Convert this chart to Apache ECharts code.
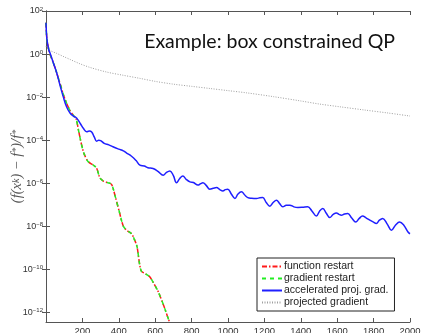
<!DOCTYPE html>
<html><head><meta charset="utf-8">
<script src="https://cdn.jsdelivr.net/npm/echarts@6/dist/echarts.min.js"></script>
<style>html,body{margin:0;padding:0;background:#fff}#c{width:421px;height:333px}</style>
</head><body><div id="c"></div>
<script>
// ---- data (y values given as log10 exponents) ----
const seriesNames = ['function restart', 'gradient restart', 'accelerated proj. grad.', 'projected gradient'];
const xTicks = [200, 400, 600, 800, 1000, 1200, 1400, 1600, 1800, 2000];
const yTickExps = [-12, -10, -8, -6, -4, -2, 0, 2];

const restartIter = [0, 5, 20, 40, 60, 80, 100, 130, 150, 165, 180, 195, 210, 232, 260, 278, 296, 315, 340, 360, 380, 405, 425, 445, 470, 485, 500, 515, 525, 545, 570, 595, 617, 645, 672, 690];
const restartExp  = [1.45, 0.7, 0.05, -0.4, -0.9, -1.45, -2.0, -2.6, -2.85, -3.0, -3.6, -4.2, -4.65, -5.0, -5.16, -5.3, -5.75, -5.9, -5.98, -6.05, -6.6, -7.4, -8.0, -8.2, -8.35, -8.6, -8.95, -9.8, -10.1, -10.2, -10.35, -10.7, -11.05, -11.65, -12.3, -12.7];

const accelIter = [0, 5, 15, 22, 40, 59, 77, 95, 113, 132, 150, 165, 175, 190, 205, 223, 237, 251, 265, 278, 290, 300, 320, 345, 368, 400, 425, 443, 470, 495, 516, 540, 560, 588, 615, 644, 662, 681, 700, 717, 735, 752, 770, 791, 810, 835, 850, 862, 880, 900, 918, 937, 955, 972, 985, 999, 1018, 1038, 1055, 1074, 1092, 1109, 1130, 1157, 1175, 1191, 1210, 1230, 1248, 1266, 1284, 1301, 1320, 1340, 1362, 1384, 1410, 1438, 1462, 1486, 1503, 1521, 1540, 1559, 1578, 1596, 1610, 1623, 1640, 1658, 1680, 1702, 1720, 1739, 1760, 1779, 1797, 1815, 1832, 1850, 1875, 1898, 1920, 1943, 1966, 1989, 2000];
const accelExp  = [1.45, 0.7, 0.2, 0.05, -0.4, -0.88, -1.45, -1.99, -2.45, -2.74, -2.88, -2.95, -3.05, -3.25, -3.45, -3.61, -3.58, -3.62, -3.85, -4.05, -4.0, -4.02, -4.15, -4.22, -4.31, -4.42, -4.5, -4.6, -4.75, -4.95, -5.16, -5.2, -5.28, -5.32, -5.45, -5.63, -5.5, -5.43, -5.65, -5.98, -5.78, -5.67, -5.82, -5.94, -5.97, -6.09, -6.02, -5.98, -6.1, -6.28, -6.24, -6.2, -6.3, -6.36, -6.3, -6.28, -6.5, -6.71, -6.5, -6.4, -6.55, -6.67, -6.7, -6.71, -6.68, -6.67, -6.9, -7.07, -6.9, -6.79, -6.95, -7.1, -7.03, -7.02, -7.1, -7.13, -7.12, -7.1, -7.3, -7.53, -7.3, -7.18, -7.4, -7.6, -7.45, -7.38, -7.45, -7.49, -7.43, -7.41, -7.62, -7.8, -7.65, -7.53, -7.62, -7.72, -7.8, -7.87, -7.72, -7.64, -7.9, -8.19, -7.95, -7.8, -7.95, -8.27, -8.35];

const projIter = [0, 20, 59, 100, 132, 180, 241, 335, 420, 516, 600, 700, 800, 900, 1000, 1100, 1250, 1400, 1500, 1614, 1750, 1880, 2000];
const projExp  = [0.36, 0.18, 0.03, -0.13, -0.25, -0.43, -0.62, -0.84, -0.98, -1.13, -1.27, -1.4, -1.5, -1.6, -1.7, -1.8, -1.98, -2.18, -2.32, -2.45, -2.6, -2.74, -2.88];

const yMinExp = -12.45, yMaxExp = 2;

function pts(xs, es) { return xs.map((x, i) => [x, Math.pow(10, es[i])]); }
const yTickVals = yTickExps.map(e => Math.pow(10, e));
const sans = 'Liberation Sans';

function yLabel(v) {
  const e = Math.round(Math.log10(v));
  return '{b|10}{s|' + (e < 0 ? '\u2212' + (-e) : e) + '}';
}

const axisColor = '#555';
const chart = echarts.init(document.getElementById('c'), null, { renderer: 'canvas' });
chart.setOption({
  animation: false,
  backgroundColor: '#fff',
  title: {
    text: 'Example: box constrained QP',
    right: 21, top: 27,
    textStyle: { fontFamily: 'Lato', fontSize: 19.5, fontWeight: 'normal', color: '#111' }
  },
  grid: { left: 46, right: 11, top: 11, bottom: 11, containLabel: false, outerBoundsMode: 'none' },
  legend: {
    data: seriesNames,
    orient: 'vertical',
    left: 257, top: 258,
    itemWidth: 20, itemHeight: 8, itemGap: 1,
    padding: [3, 6, 3, 4],
    borderColor: '#222', borderWidth: 1,
    backgroundColor: '#fff',
    itemStyle: { opacity: 0 },
    textStyle: { fontFamily: sans, fontSize: 10.5, color: '#222', lineHeight: 11, padding: [0, 0, 0, -3] }
  },
  xAxis: [{
    type: 'value', min: 0, max: 2000, interval: 200,
    axisLine: { lineStyle: { color: axisColor, width: 1 } },
    axisTick: { inside: true, length: 4, lineStyle: { color: axisColor } },
    axisLabel: { showMinLabel: false, margin: 4, fontFamily: sans, fontSize: 9.5, color: '#333',
      formatter: v => (xTicks.indexOf(v) >= 0 ? String(v) : '') },
    splitLine: { show: false }
  }, {
    type: 'value', position: 'top', min: 0, max: 2000, interval: 200,
    axisLine: { lineStyle: { color: axisColor, width: 1 } },
    axisTick: { inside: true, length: 4, lineStyle: { color: axisColor } },
    axisLabel: { show: false }, splitLine: { show: false }
  }],
  yAxis: [{
    type: 'log', logBase: 10, min: Math.pow(10, yMinExp), max: Math.pow(10, yMaxExp),
    name: '{i|(f(x}{t|k}{i|) \u2212 f}{t|*}{i|)/f}{t|*}',
    nameLocation: 'middle', nameGap: 21, nameRotate: 90, nameMoveOverlap: false,
    nameTextStyle: {
      rich: {
        i: { fontFamily: 'Liberation Serif', fontStyle: 'italic', fontSize: 14.5, color: '#555', lineHeight: 14, verticalAlign: 'bottom' },
        t: { fontFamily: 'Liberation Serif', fontStyle: 'italic', fontSize: 10, color: '#555', lineHeight: 14, verticalAlign: 'top' }
      }
    },
    axisLine: { lineStyle: { color: axisColor, width: 1 } },
    axisTick: { inside: true, length: 4, customValues: yTickVals, lineStyle: { color: axisColor } },
    axisLabel: {
      customValues: yTickVals, margin: 3, formatter: yLabel,
      rich: {
        b: { fontFamily: sans, fontSize: 9, color: '#333', lineHeight: 9, verticalAlign: 'bottom' },
        s: { fontFamily: sans, fontSize: 6, color: '#333', lineHeight: 9, verticalAlign: 'top' }
      }
    },
    minorTick: { show: false },
    splitLine: { show: false }
  }, {
    type: 'log', logBase: 10, position: 'right', min: Math.pow(10, yMinExp), max: Math.pow(10, yMaxExp),
    axisLine: { lineStyle: { color: axisColor, width: 1 } },
    axisTick: { inside: true, length: 4, customValues: yTickVals, lineStyle: { color: axisColor } },
    axisLabel: { show: false }, splitLine: { show: false }
  }],
  series: [{
    name: seriesNames[0], type: 'line', data: pts(restartIter, restartExp),
    symbol: 'none', smooth: 0.3, clip: true,
    lineStyle: { color: '#ff1a1a', width: 1.5, type: [5, 2, 1.5, 2] }, itemStyle: { color: '#ff1a1a' }, z: 2
  }, {
    name: seriesNames[1], type: 'line', data: pts(restartIter, restartExp),
    symbol: 'none', smooth: 0.3, clip: true,
    lineStyle: { color: '#22ee22', width: 1.5, type: [4, 4] }, itemStyle: { color: '#22ee22' }, z: 3
  }, {
    name: seriesNames[2], type: 'line', data: pts(accelIter, accelExp),
    symbol: 'none', smooth: 0.4, clip: true,
    lineStyle: { color: '#1f1fff', width: 1.5 }, itemStyle: { color: '#1f1fff' }, z: 4
  }, {
    name: seriesNames[3], type: 'line', data: pts(projIter, projExp),
    symbol: 'none', smooth: 0.3, clip: true,
    lineStyle: { color: '#a0a0a0', width: 1, type: [1, 1.5] }, itemStyle: { color: '#a0a0a0' }, z: 1
  }]
});
</script></body></html>
